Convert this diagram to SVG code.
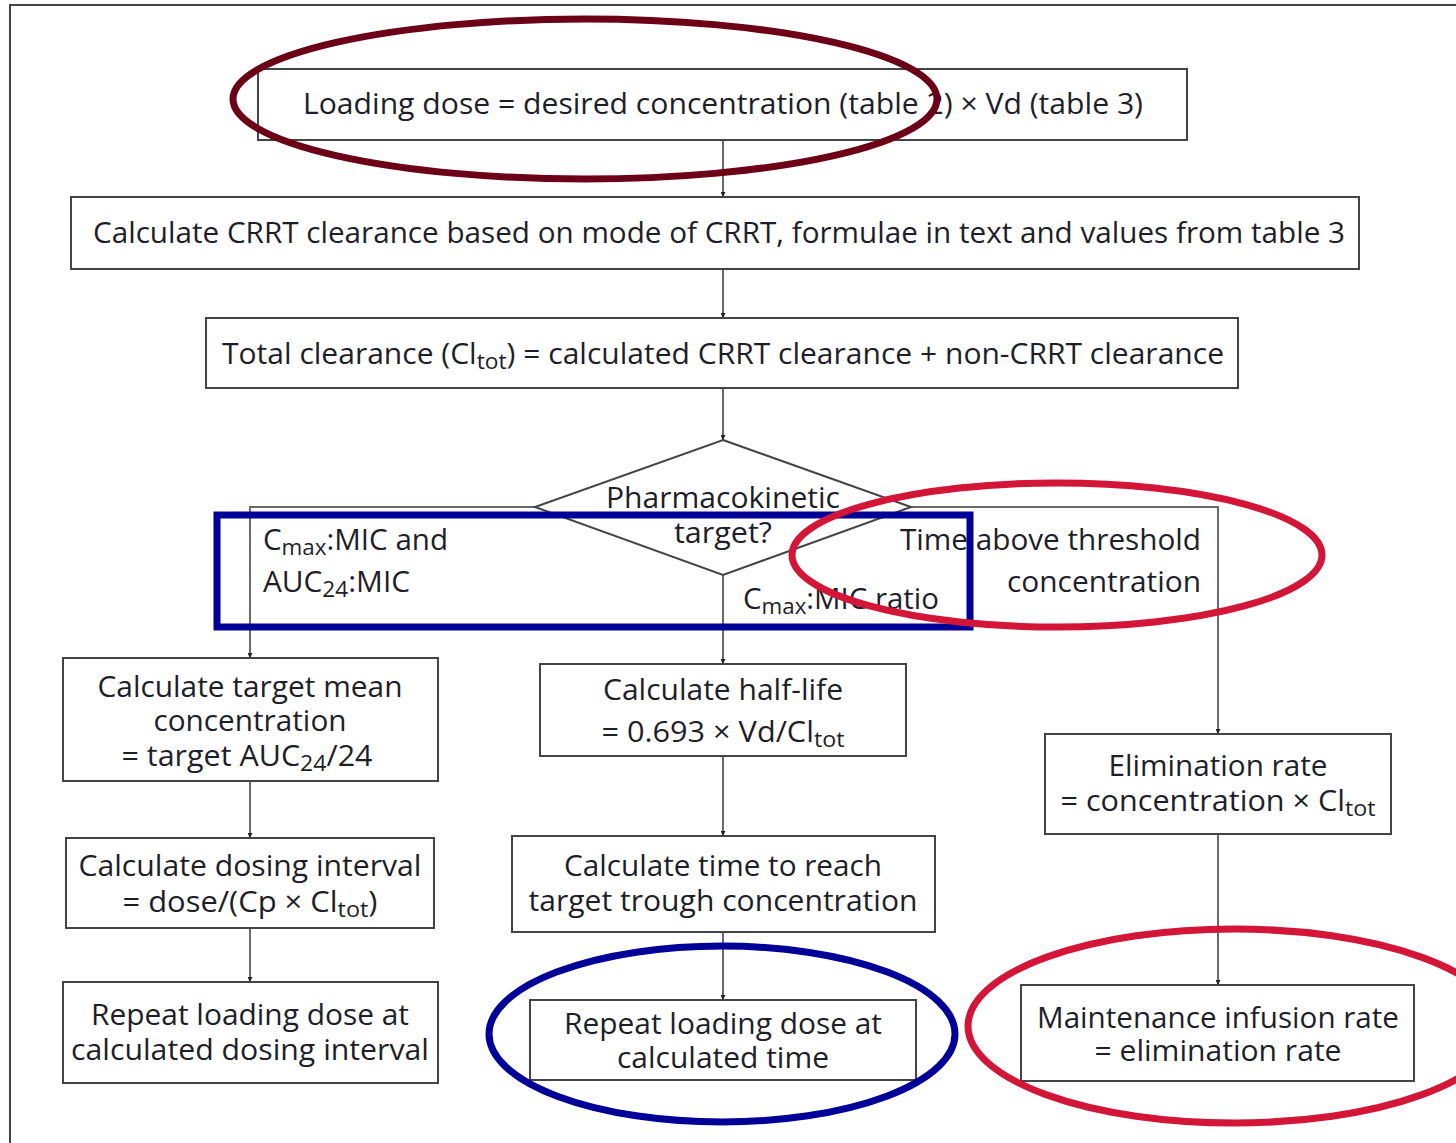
<svg xmlns="http://www.w3.org/2000/svg" width="1456" height="1143" viewBox="0 0 1456 1143">
<style>
.box{fill:#fff;stroke:#444;stroke-width:2}
.t{font-family:"Open Sans","Noto Sans",sans-serif;font-size:29px;fill:#1e1e2a}
.c{text-anchor:middle}
.e{text-anchor:end}
.sub{font-size:22px}
.conn{fill:none;stroke:#6a6a6a;stroke-width:2}
.hl{fill:none;stroke-width:7}
</style>
<defs>
<marker id="ah" viewBox="0 0 10 10" refX="10" refY="5" markerWidth="5" markerHeight="5" orient="auto" markerUnits="userSpaceOnUse">
<path d="M0,0 L10,5 L0,10 Z" fill="#222"/>
</marker>
</defs>
<rect width="1456" height="1143" fill="#fff"/>
<path d="M10,1143 V5 H1456" fill="none" stroke="#444" stroke-width="2"/>

<g id="connectors">
<path class="conn" d="M723,140 V197" marker-end="url(#ah)"/>
<path class="conn" d="M723,269 V318" marker-end="url(#ah)"/>
<path class="conn" d="M723,388 V440" marker-end="url(#ah)"/>
<path class="conn" d="M535,507 H250 V658" marker-end="url(#ah)"/>
<path class="conn" d="M723,575 V664" marker-end="url(#ah)"/>
<path class="conn" d="M911,507 H1218 V734" marker-end="url(#ah)"/>
<path class="conn" d="M250,781 V838" marker-end="url(#ah)"/>
<path class="conn" d="M250,928 V982" marker-end="url(#ah)"/>
<path class="conn" d="M723,756 V836" marker-end="url(#ah)"/>
<path class="conn" d="M723,932 V1000" marker-end="url(#ah)"/>
<path class="conn" d="M1218,834 V985" marker-end="url(#ah)"/>
</g>

<g id="n-loading">
<rect class="box" x="258" y="69" width="929" height="71"/>
<text class="t c" x="723" y="114" textLength="840" lengthAdjust="spacingAndGlyphs">Loading dose = desired concentration (table 2) × Vd (table 3)</text>
</g>
<g id="n-crrt">
<rect class="box" x="71" y="197" width="1288" height="72"/>
<text class="t c" x="719" y="243" textLength="1252" lengthAdjust="spacingAndGlyphs">Calculate CRRT clearance based on mode of CRRT, formulae in text and values from table 3</text>
</g>
<g id="n-total">
<rect class="box" x="206" y="318" width="1032" height="70"/>
<text class="t c" x="723" y="364" textLength="1002" lengthAdjust="spacingAndGlyphs">Total clearance (Cl<tspan class="sub" dy="5">tot</tspan><tspan dy="-5">) = calculated CRRT clearance + non-CRRT clearance</tspan></text>
</g>
<g id="n-decision">
<polygon class="box" points="723,440 911,507 723,575 535,507"/>
<text class="t c" x="723" y="508" textLength="234" lengthAdjust="spacingAndGlyphs">Pharmacokinetic</text>
<text class="t c" x="723" y="543" textLength="98" lengthAdjust="spacingAndGlyphs">target?</text>
</g>
<g id="labels">
<text class="t" x="263" y="550" textLength="185" lengthAdjust="spacingAndGlyphs">C<tspan class="sub" dy="5">max</tspan><tspan dy="-5">:MIC and</tspan></text>
<text class="t" x="263" y="592" textLength="147" lengthAdjust="spacingAndGlyphs">AUC<tspan class="sub" dy="5">24</tspan><tspan dy="-5">:MIC</tspan></text>
<text class="t e" x="1201" y="550" textLength="301" lengthAdjust="spacingAndGlyphs">Time above threshold</text>
<text class="t e" x="1201" y="592" textLength="194" lengthAdjust="spacingAndGlyphs">concentration</text>
<text class="t" x="743" y="609" textLength="196" lengthAdjust="spacingAndGlyphs">C<tspan class="sub" dy="5">max</tspan><tspan dy="-5">:MIC ratio</tspan></text>
</g>

<g id="n-target-mean">
<rect class="box" x="63" y="658" width="375" height="123"/>
<text class="t c" x="250" y="697" textLength="305" lengthAdjust="spacingAndGlyphs">Calculate target mean</text>
<text class="t c" x="250" y="731" textLength="193" lengthAdjust="spacingAndGlyphs">concentration</text>
<text class="t c" x="247" y="766" textLength="251" lengthAdjust="spacingAndGlyphs">= target AUC<tspan class="sub" dy="5">24</tspan><tspan dy="-5">/24</tspan></text>
</g>
<g id="n-dosing-interval">
<rect class="box" x="66" y="838" width="368" height="90"/>
<text class="t c" x="250" y="876" textLength="343" lengthAdjust="spacingAndGlyphs">Calculate dosing interval</text>
<text class="t c" x="250" y="912" textLength="255" lengthAdjust="spacingAndGlyphs">= dose/(Cp × Cl<tspan class="sub" dy="5">tot</tspan><tspan dy="-5">)</tspan></text>
</g>
<g id="n-repeat-interval">
<rect class="box" x="63" y="982" width="375" height="101"/>
<text class="t c" x="250" y="1025" textLength="318" lengthAdjust="spacingAndGlyphs">Repeat loading dose at</text>
<text class="t c" x="250" y="1060" textLength="358" lengthAdjust="spacingAndGlyphs">calculated dosing interval</text>
</g>

<g id="n-half-life">
<rect class="box" x="540" y="664" width="366" height="92"/>
<text class="t c" x="723" y="700" textLength="240" lengthAdjust="spacingAndGlyphs">Calculate half-life</text>
<text class="t c" x="723" y="742" textLength="243" lengthAdjust="spacingAndGlyphs">= 0.693 × Vd/Cl<tspan class="sub" dy="5">tot</tspan></text>
</g>
<g id="n-time-reach">
<rect class="box" x="512" y="836" width="423" height="96"/>
<text class="t c" x="723" y="876" textLength="318" lengthAdjust="spacingAndGlyphs">Calculate time to reach</text>
<text class="t c" x="723" y="911" textLength="389" lengthAdjust="spacingAndGlyphs">target trough concentration</text>
</g>
<g id="n-repeat-time">
<rect class="box" x="530" y="1000" width="386" height="80"/>
<text class="t c" x="723" y="1034" textLength="318" lengthAdjust="spacingAndGlyphs">Repeat loading dose at</text>
<text class="t c" x="723" y="1068" textLength="212" lengthAdjust="spacingAndGlyphs">calculated time</text>
</g>

<g id="n-elimination">
<rect class="box" x="1045" y="734" width="346" height="100"/>
<text class="t c" x="1218" y="776" textLength="219" lengthAdjust="spacingAndGlyphs">Elimination rate</text>
<text class="t c" x="1218" y="811" textLength="315" lengthAdjust="spacingAndGlyphs">= concentration × Cl<tspan class="sub" dy="5">tot</tspan></text>
</g>
<g id="n-maintenance">
<rect class="box" x="1021" y="985" width="393" height="96"/>
<text class="t c" x="1218" y="1028" textLength="362" lengthAdjust="spacingAndGlyphs">Maintenance infusion rate</text>
<text class="t c" x="1218" y="1061" textLength="247" lengthAdjust="spacingAndGlyphs">= elimination rate</text>
</g>

<g id="highlights">
<ellipse class="hl" cx="585" cy="99" rx="352" ry="80" stroke="#6b0016"/>
<rect class="hl" x="217" y="515" width="753" height="112" stroke="#000099"/>
<ellipse class="hl" cx="1057" cy="555" rx="265" ry="72" stroke="#d31538"/>
<ellipse class="hl" cx="722" cy="1034" rx="233" ry="88" stroke="#000099"/>
<ellipse class="hl" cx="1234" cy="1026" rx="266" ry="97" stroke="#d31538"/>
</g>
</svg>
